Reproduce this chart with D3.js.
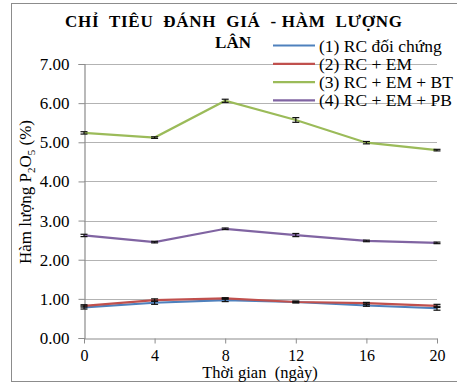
<!DOCTYPE html>
<html>
<head>
<meta charset="utf-8">
<script src="https://cdn.jsdelivr.net/npm/d3@7"></script>
<style>
  body { margin: 0; background: #fff; }
  svg text { font-family: "Liberation Serif", "Times New Roman", serif; }
</style>
</head>
<body>
<svg id="chart" width="457" height="387"></svg>
<script>
// data
const days = [0, 4, 8, 12, 16, 20];
const seriesNames = ["(1) RC đối chứng", "(2) RC + EM", "(3) RC + EM + BT", "(4) RC + EM + PB"];
const seriesColors = ["#4F81BD", "#C0504D", "#9BBB59", "#8064A2"];
const rcControl = [0.78, 0.90, 0.97, 0.92, 0.83, 0.76];
const rcEm = [0.82, 0.97, 1.01, 0.92, 0.89, 0.82];
const rcEmBt = [5.24, 5.12, 6.06, 5.57, 4.99, 4.80];
const rcEmPb = [2.62, 2.45, 2.79, 2.63, 2.48, 2.43];
const errControl = [0.04, 0.04, 0.04, 0.02, 0.02, 0.05];
const errEm = [0.03, 0.03, 0.02, 0.02, 0.02, 0.04];
const errBt = [0.03, 0.02, 0.04, 0.06, 0.03, 0.02];
const errPb = [0.03, 0.02, 0.02, 0.04, 0.02, 0.02];
const yTicks = [0, 1, 2, 3, 4, 5, 6, 7];

const allValues = [rcControl, rcEm, rcEmBt, rcEmPb];
const allErrors = [errControl, errEm, errBt, errPb];
const FONT = "'Liberation Serif', 'Times New Roman', serif";

const svg = d3.select("#chart");

// outer chart border
svg.append("rect")
  .attr("x", 11.5).attr("y", 3.5)
  .attr("width", 460).attr("height", 378)
  .attr("fill", "none")
  .attr("stroke", "#8c8c8c");

const x = d3.scaleLinear().domain([0, 20]).range([84, 437]);
const y = d3.scaleLinear().domain([0, 7]).range([338, 64]);

// gridlines
svg.append("g")
  .selectAll("line")
  .data(yTicks.filter(d => d > 0))
  .join("line")
  .attr("x1", 84).attr("x2", 437)
  .attr("y1", d => Math.round(y(d)) + 0.5)
  .attr("y2", d => Math.round(y(d)) + 0.5)
  .attr("stroke", "#b3b3b3")
  .attr("stroke-width", 1.2);

// y axis
const yAxis = svg.append("g")
  .attr("transform", "translate(84.5,0)")
  .attr("font-family", FONT)
  .call(d3.axisLeft(y).tickValues(yTicks).tickFormat(d3.format(".2f")).tickSize(6).tickPadding(9));
yAxis.select(".domain").attr("stroke", "#8c8c8c").attr("stroke-width", 1.2);
yAxis.selectAll(".tick line").attr("stroke", "#8c8c8c");
yAxis.selectAll(".tick text").attr("font-size", 17).attr("fill", "#000");

// x axis
const xAxis = svg.append("g")
  .attr("transform", "translate(0,338.5)")
  .attr("font-family", FONT)
  .call(d3.axisBottom(x).tickValues(days).tickSize(5).tickPadding(6).tickSizeOuter(0));
xAxis.select(".domain").attr("stroke", "#8c8c8c").attr("stroke-width", 1.2);
xAxis.selectAll(".tick line").attr("stroke", "#8c8c8c");
xAxis.selectAll(".tick text").attr("font-size", 16).attr("fill", "#000");

// axis titles
svg.append("text")
  .attr("x", 260).attr("y", 378)
  .attr("text-anchor", "middle")
  .attr("font-size", 16.5)
  .style("white-space", "pre")
  .text("Thời gian  (ngày)");

const yTitle = svg.append("text")
  .attr("transform", "translate(31,192) rotate(-90)")
  .attr("text-anchor", "middle")
  .attr("font-size", 17);
yTitle.append("tspan").text("Hàm lượng P");
yTitle.append("tspan").attr("font-size", 11).attr("dy", 4).text("2");
yTitle.append("tspan").attr("dy", -4).text("O");
yTitle.append("tspan").attr("font-size", 11).attr("dy", 4).text("5");
yTitle.append("tspan").attr("dy", -4).text(" (%)");

// lines
const line = d3.line()
  .x((d, i) => x(days[i]))
  .y(d => y(d));

allValues.forEach((vals, s) => {
  svg.append("path")
    .datum(vals)
    .attr("fill", "none")
    .attr("stroke", seriesColors[s])
    .attr("stroke-width", 2.2)
    .attr("d", line);
});

// error bars
allValues.forEach((vals, s) => {
  const g = svg.append("g").attr("stroke", "#111").attr("stroke-width", 1.2);
  vals.forEach((v, i) => {
    const e = allErrors[s][i];
    const cx = x(days[i]);
    g.append("line").attr("x1", cx).attr("x2", cx).attr("y1", y(v - e)).attr("y2", y(v + e));
    g.append("line").attr("x1", cx - 3.5).attr("x2", cx + 3.5).attr("y1", y(v - e)).attr("y2", y(v - e));
    g.append("line").attr("x1", cx - 3.5).attr("x2", cx + 3.5).attr("y1", y(v + e)).attr("y2", y(v + e));
  });
});

// title
svg.append("text")
  .attr("x", 65).attr("y", 27)
  .attr("font-size", 17)
  .attr("font-weight", "bold")
  .attr("textLength", 337)
  .attr("lengthAdjust", "spacing")
  .style("white-space", "pre")
  .text("CHỈ  TIÊU  ĐÁNH  GIÁ  - HÀM  LƯỢNG");
svg.append("text")
  .attr("x", 233).attr("y", 48)
  .attr("text-anchor", "middle")
  .attr("font-size", 17)
  .attr("font-weight", "bold")
  .text("LÂN");

// legend
const legend = svg.append("g")
  .selectAll("g")
  .data(seriesNames)
  .join("g")
  .attr("transform", (d, i) => `translate(273,${45.5 + i * 18.3})`);
legend.append("line")
  .attr("x1", 0).attr("x2", 42)
  .attr("stroke", (d, i) => seriesColors[i])
  .attr("stroke-width", 2.2);
legend.append("text")
  .attr("x", 46).attr("y", 6)
  .attr("font-size", 17.5)
  .text(d => d);
</script>
</body>
</html>
